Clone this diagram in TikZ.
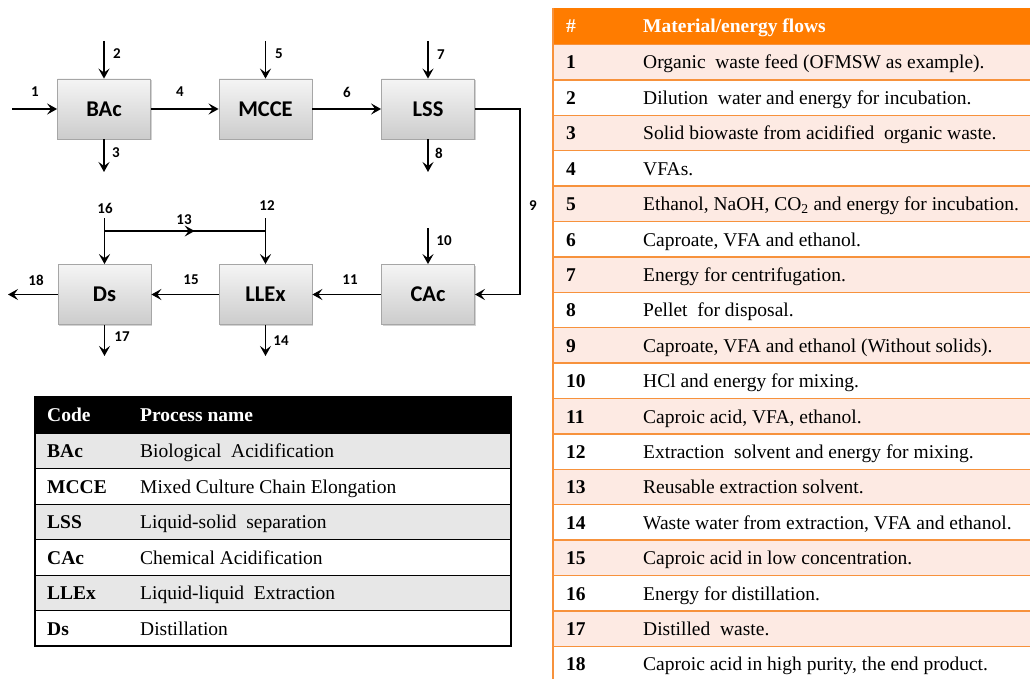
\documentclass[tikz,border=0pt]{standalone}
\usepackage{fontspec}
\setmainfont{Liberation Serif}
\newfontfamily\calfont{Carlito}
\usetikzlibrary{arrows.meta,shadows,decorations.markings}
\definecolor{hdrorange}{RGB}{255,124,0}
\definecolor{lineorange}{RGB}{247,146,60}
\definecolor{pinkrow}{RGB}{253,234,227}
\definecolor{grayrow}{RGB}{231,231,231}
\begin{document}
\begin{tikzpicture}[x=1pt,y=-1pt,
  box/.style={draw=gray!70, line width=0.8pt, top color=gray!8, bottom color=gray!40,
    minimum width=93pt, minimum height=60pt, inner sep=0pt,
    font=\calfont\bfseries\fontsize{22.5}{26}\selectfont,
    drop shadow={shadow xshift=1.3pt, shadow yshift=-1.3pt, opacity=0.35, fill=gray}},
  flow/.style={line width=1.9pt, -{Stealth[length=10pt,width=11pt,inset=4pt]}},
  plain/.style={line width=1.9pt},
  num/.style={font=\calfont\bfseries\fontsize{15}{17}\selectfont, inner sep=0pt},
  tcell/.style={font=\fontsize{19.5}{22}\selectfont, anchor=base west, inner sep=0pt},
  tbold/.style={tcell, font=\fontsize{19.5}{22}\selectfont\bfseries},
  thead/.style={tbold, text=white}
]
\useasboundingbox (0,0) rectangle (1030,679);
\fill[white] (0,0) rectangle (1030,679);

% ---------------- flow diagram ----------------
\node[box] (BAc)  at (104,109) {BAc};
\node[box] (MCCE) at (265.5,109) {MCCE};
\node[box] (LSS)  at (428,109) {LSS};
\node[box] (Ds)   at (104.5,294.5) {Ds};
\node[box] (LLEx) at (265.5,294.5) {LLEx};
\node[box] (CAc)  at (428,294.5) {CAc};

\coordinate (in1) at (12,109);
\coordinate (in2) at (104,41);
\coordinate (out3) at (104,172);
\coordinate (in5) at (265.5,41);
\coordinate (in7) at (428,41);
\coordinate (out8) at (428,172);
\coordinate (c9a) at (520,109);
\coordinate (c9b) at (520,294.5);
\coordinate (in10) at (428,228);
\coordinate (in12) at (265.5,218);
\coordinate (in16) at (104.5,218);
\coordinate (j16) at (104.5,231);
\coordinate (j12) at (265.5,231);
\coordinate (out14) at (265.5,356);
\coordinate (out17) at (104.5,356);
\coordinate (out18) at (8,294.5);

\draw[flow] (in1) -- (BAc.west);
\draw[flow] (in2) -- (BAc.north);
\draw[flow] (BAc.south) -- (out3);
\draw[flow] (BAc.east) -- (MCCE.west);
\draw[flow] (in5) -- (MCCE.north);
\draw[flow] (MCCE.east) -- (LSS.west);
\draw[flow] (in7) -- (LSS.north);
\draw[flow] (LSS.south) -- (out8);
\draw[flow] (LSS.east) -- (c9a) -- (c9b) -- (CAc.east);
\draw[flow] (in10) -- (CAc.north);
\draw[flow] (CAc.west) -- (LLEx.east);
\draw[flow] (in12) -- (LLEx.north);
\draw[plain, postaction={decorate}, decoration={markings,
  mark=at position 0.56 with {\arrow{Stealth[length=10pt,width=11pt,inset=4pt]}}}] (j16) -- (j12);
\draw[flow] (in16) -- (Ds.north);
\draw[flow] (LLEx.west) -- (Ds.east);
\draw[flow] (LLEx.south) -- (out14);
\draw[flow] (Ds.south) -- (out17);
\draw[flow] (Ds.west) -- (out18);

\node[num] (n1)  at (35,92) {1};
\node[num] (n2)  at (117,54) {2};
\node[num] (n3)  at (116,153) {3};
\node[num] (n4)  at (180,92) {4};
\node[num] (n5)  at (279,54) {5};
\node[num] (n6)  at (347,92) {6};
\node[num] (n7)  at (441,55) {7};
\node[num] (n8)  at (439,153) {8};
\node[num] (n9)  at (533,206) {9};
\node[num] (n10) at (444,241) {10};
\node[num] (n11) at (350,280) {11};
\node[num] (n12) at (267,206) {12};
\node[num] (n13) at (184,220) {13};
\node[num] (n14) at (281,341) {14};
\node[num] (n15) at (191,280) {15};
\node[num] (n16) at (105,208) {16};
\node[num] (n17) at (122,337) {17};
\node[num] (n18) at (36,280) {18};

% ---------------- process table ----------------
\fill[black] (35,397) rectangle (511,433);
\node[thead] (hc) at (47,421) {Code};
\node[thead] (hp) at (140,421) {Process name};
\foreach \c/\p [count=\i] in {BAc/Biological\ \ Acidification, MCCE/Mixed Culture Chain Elongation,
   LSS/Liquid-solid\ \ separation, CAc/Chemical Acidification, LLEx/Liquid-liquid\ \ Extraction, Ds/Distillation}{
  \pgfmathsetmacro{\top}{433+(\i-1)*35.5}
  \ifodd\i \fill[grayrow] (35,\top) rectangle (511,\top+35.5); \fi
  \draw[line width=1pt] (35,\top) -- (511,\top);
  \node[tbold] (pc\i) at (47,\top+24.5) {\c};
  \node[tcell] (pn\i) at (140,\top+24.5) {\p};
}
\draw[line width=1.2pt] (35,397) rectangle (511,646);

% ---------------- flows table ----------------
\fill[hdrorange] (553,8) rectangle (1031,44.5);
\node[thead] (fh1) at (566,33) {\#};
\node[thead] (fh2) at (643,33) {Material/energy flows};
\foreach \t [count=\i] in {
  {Organic\ \ waste feed (OFMSW as example).},
  {Dilution\ \ water and energy for incubation.},
  {Solid biowaste from acidified\ \ organic waste.},
  {VFAs.},
  {Ethanol, NaOH, CO\textsubscript{2} and energy for incubation.},
  {Caproate, VFA and ethanol.},
  {Energy for centrifugation.},
  {Pellet\ \ for disposal.},
  {Caproate, VFA and ethanol (Without solids).},
  {HCl and energy for mixing.},
  {Caproic acid, VFA, ethanol.},
  {Extraction\ \ solvent and energy for mixing.},
  {Reusable extraction solvent.},
  {Waste water from extraction, VFA and ethanol.},
  {Caproic acid in low concentration.},
  {Energy for distillation.},
  {Distilled\ \ waste.},
  {Caproic acid in high purity, the end product.}}{
  \pgfmathsetmacro{\top}{44.5+(\i-1)*35.4}
  \ifodd\i \fill[pinkrow] (553,\top) rectangle (1031,\top+35.4); \fi
  \draw[lineorange, line width=1.5pt] (553,\top) -- (1031,\top);
  \node[tbold] (fn\i) at (566,\top+24.5) {\i};
  \node[tcell] (ft\i) at (643,\top+24.5) {\t};
}
\draw[lineorange, line width=1.2pt] (553,8) -- (553,680);
\end{tikzpicture}
\end{document}
